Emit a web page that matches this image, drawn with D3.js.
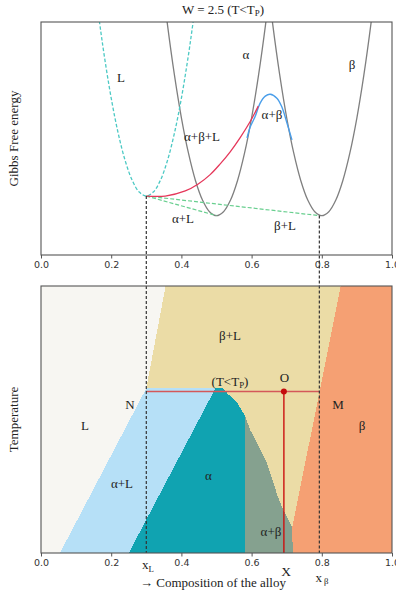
<!DOCTYPE html>
<html>
<head>
<meta charset="utf-8">
<script src="https://cdn.jsdelivr.net/npm/d3@7"></script>
<style>
  html, body { margin: 0; padding: 0; background: #fff; }
  svg { display: block; }
  .lbl { font-family: "Liberation Serif", "Times New Roman", serif; fill: #222; }
  .tick text { font-family: "DejaVu Sans", sans-serif; font-size: 9.5px; fill: #333; }
</style>
</head>
<body>
<svg id="chart" width="396" height="593"></svg>
<script>
// ---- Gibbs free energy curves (composition, G in arbitrary units) ----
const liquidG = [[0.16,1.076],[0.17,0.963],[0.18,0.858],[0.20,0.673],[0.22,0.522],[0.24,0.404],[0.26,0.320],[0.28,0.270],[0.30,0.253],[0.32,0.270],[0.34,0.320],[0.36,0.404],[0.38,0.522],[0.40,0.673],[0.42,0.858],[0.43,0.963],[0.44,1.076]];
const alphaG = [[0.34,1.244],[0.36,0.992],[0.38,0.774],[0.40,0.589],[0.42,0.438],[0.44,0.320],[0.46,0.236],[0.48,0.186],[0.50,0.169],[0.52,0.186],[0.54,0.236],[0.56,0.320],[0.58,0.438],[0.60,0.589],[0.62,0.774],[0.64,0.992],[0.66,1.244]];
const betaG = [[0.64,1.244],[0.66,0.992],[0.68,0.774],[0.70,0.589],[0.72,0.438],[0.74,0.320],[0.76,0.236],[0.78,0.186],[0.80,0.169],[0.82,0.186],[0.84,0.236],[0.86,0.320],[0.88,0.438],[0.90,0.589],[0.92,0.774],[0.94,0.992],[0.96,1.244]];
const threePhaseG = [[0.300,0.253],[0.354,0.253],[0.411,0.275],[0.448,0.305],[0.482,0.345],[0.510,0.390],[0.539,0.443],[0.567,0.503],[0.596,0.573],[0.619,0.639]];
const alphaBetaG = [[0.587,0.502],[0.596,0.549],[0.610,0.594],[0.624,0.651],[0.639,0.682],[0.653,0.690],[0.672,0.673],[0.686,0.636],[0.701,0.565],[0.715,0.494]];
const tangentAlphaL = [[0.300,0.253],[0.500,0.169]];
const tangentBetaL = [[0.300,0.253],[0.793,0.169]];

// ---- Phase diagram boundaries (composition, temperature 0..1) ----
const liquidusAlpha = [[0.054,0],[0.300,0.617]];
const liquidusBeta = [[0.300,0.617],[0.355,1]];
const solidusAlpha = [[0.250,0],[0.497,0.617]];
const solvusAlpha = [[0.519,0.617],[0.530,0.599],[0.559,0.562],[0.581,0.515],[0.596,0.461],[0.644,0.337],[0.675,0.210],[0.690,0.161],[0.716,0.097],[0.717,0]];
const solidusBeta = [[0.854,1],[0.716,0.097],[0.717,0]];
const alphaBetaEdge = 0.581;

// ---- Tie line at the chosen temperature ----
const tieT = 0.605;
const xL = 0.300;
const xBeta = 0.793;
const alloyX = 0.692;

const xTicks = [0.0, 0.2, 0.4, 0.6, 0.8, 1.0];

const svg = d3.select("#chart");
const left = 41, right = 392;
const top1 = 22, bot1 = 255;
const top2 = 286, bot2 = 553;

const x = d3.scaleLinear().domain([0, 1]).range([left, right]);
const yG = d3.scaleLinear().domain([0, 1]).range([bot1, top1]);
const yT = d3.scaleLinear().domain([0, 1]).range([bot2, top2]);

// ---------- upper panel: free energy curves ----------
svg.append("clipPath").attr("id", "clipTop")
  .append("rect").attr("x", left).attr("y", top1).attr("width", right - left).attr("height", bot1 - top1);

const gTop = svg.append("g").attr("clip-path", "url(#clipTop)");
const lineG = d3.line().x(d => x(d[0])).y(d => yG(d[1])).curve(d3.curveCatmullRom);
const straightG = d3.line().x(d => x(d[0])).y(d => yG(d[1]));

gTop.append("path").attr("d", lineG(alphaG)).attr("fill", "none").attr("stroke", "#7f7f7f").attr("stroke-width", 1.3);
gTop.append("path").attr("d", lineG(betaG)).attr("fill", "none").attr("stroke", "#7f7f7f").attr("stroke-width", 1.3);
gTop.append("path").attr("d", lineG(liquidG)).attr("fill", "none").attr("stroke", "#4cc9c4").attr("stroke-width", 1.3).attr("stroke-dasharray", "3.5,2");
gTop.append("path").attr("d", straightG(tangentAlphaL)).attr("fill", "none").attr("stroke", "#68cf8f").attr("stroke-width", 1.2).attr("stroke-dasharray", "4,2");
gTop.append("path").attr("d", straightG(tangentBetaL)).attr("fill", "none").attr("stroke", "#68cf8f").attr("stroke-width", 1.2).attr("stroke-dasharray", "4,2");
gTop.append("path").attr("d", lineG(alphaBetaG)).attr("fill", "none").attr("stroke", "#4a9eea").attr("stroke-width", 1.4);
gTop.append("path").attr("d", lineG(threePhaseG)).attr("fill", "none").attr("stroke", "#e5375a").attr("stroke-width", 1.3);

// ---------- lower panel: phase regions ----------
const P = pts => pts.map(d => [x(d[0]), yT(d[1])]);
const poly = pts => "M" + P(pts).map(p => p.join(",")).join("L") + "Z";
const gBot = svg.append("g").attr("shape-rendering", "crispEdges");

// liquid background
gBot.append("rect").attr("x", x(0)).attr("y", yT(1)).attr("width", x(1) - x(0)).attr("height", yT(0) - yT(1)).attr("fill", "#f7f6f2");

// beta + liquid
const solvusRev = solvusAlpha.slice(0, -1).reverse();
gBot.append("path").attr("fill", "#ebdca6").attr("d", poly([
  ...liquidusBeta, solidusBeta[0], solidusBeta[1], ...solvusRev, liquidusBeta[0]
]));
// alpha + liquid
gBot.append("path").attr("fill", "#b6e0f7").attr("d", poly([
  liquidusAlpha[0], liquidusAlpha[1], solidusAlpha[1], solidusAlpha[0]
]));
// alpha
gBot.append("path").attr("fill", "#10a3b1").attr("d", poly([
  ...solidusAlpha, ...solvusAlpha.filter(d => d[0] <= alphaBetaEdge), [alphaBetaEdge, 0]
]));
// alpha + beta
gBot.append("path").attr("fill", "#85a18f").attr("d", poly([
  ...solvusAlpha.filter(d => d[0] >= alphaBetaEdge), [alphaBetaEdge, 0]
]));
// beta
gBot.append("path").attr("fill", "#f5a073").attr("d", poly([
  solidusBeta[0], [1, 1], [1, 0], solidusBeta[2], solidusBeta[1]
]));

// tie line N–M and alloy composition
svg.append("line").attr("x1", x(xL)).attr("x2", x(xBeta)).attr("y1", yT(tieT)).attr("y2", yT(tieT))
  .attr("stroke", "#d4585a").attr("stroke-width", 1.5);
svg.append("line").attr("x1", x(alloyX)).attr("x2", x(alloyX)).attr("y1", yT(tieT)).attr("y2", yT(0))
  .attr("stroke", "#cc1010").attr("stroke-width", 1.4);
svg.append("circle").attr("cx", x(alloyX)).attr("cy", yT(tieT)).attr("r", 3).attr("fill", "#c40c0c");

// guide lines linking the tangent points to the phase diagram
svg.append("line").attr("x1", x(xL)).attr("x2", x(xL)).attr("y1", yG(0.253)).attr("y2", yT(0))
  .attr("stroke", "#333").attr("stroke-width", 1.2).attr("stroke-dasharray", "3,2");
svg.append("line").attr("x1", x(xBeta)).attr("x2", x(xBeta)).attr("y1", yG(0.169)).attr("y2", yT(0))
  .attr("stroke", "#333").attr("stroke-width", 1.2).attr("stroke-dasharray", "3,2");

// ---------- frames and axes ----------
function frame(t, b) {
  svg.append("rect").attr("x", left).attr("y", t).attr("width", right - left).attr("height", b - t)
    .attr("fill", "none").attr("stroke", "#555").attr("stroke-width", 1.1);
  const ax = svg.append("g").attr("class", "tick").attr("transform", `translate(0,${b})`)
    .call(d3.axisBottom(x).tickValues(xTicks).tickFormat(d3.format(".1f")).tickSize(3.5).tickPadding(2.5));
  ax.select(".domain").remove();
  ax.selectAll("line").attr("stroke", "#555");
}
frame(top1, bot1);
frame(top2, bot2);

// ---------- text ----------
function label(tx, ty, parts, size, anchor) {
  const t = svg.append("text").attr("class", "lbl").attr("x", tx).attr("y", ty)
    .attr("font-size", size).attr("text-anchor", anchor || "middle");
  parts.forEach(p => {
    const s = t.append("tspan").text(p.t);
    if (p.sub) s.attr("font-size", size * 0.68).attr("dy", p.dy || 2);
    if (p.back) s.attr("dy", -(p.back));
  });
  return t;
}

label(223, 14, [{t: "W = 2.5 (T<T"}, {t: "P", sub: true, dy: 1.5}, {t: ")", back: 1.5}], 13);

label(121, 82, [{t: "L"}], 13);
label(246, 58.5, [{t: "α"}], 13);
label(352, 68.5, [{t: "β"}], 13);
label(272, 118.5, [{t: "α+β"}], 13);
label(202, 141, [{t: "α+β+L"}], 13);
label(183, 223, [{t: "α+L"}], 13);
label(285, 229.5, [{t: "β+L"}], 13);

label(230, 340, [{t: "β+L"}], 13);
label(230, 386, [{t: "(T<T"}, {t: "P", sub: true, dy: 1.5}, {t: ")", back: 1.5}], 13);
label(284.5, 382, [{t: "O"}], 13);
label(130, 408.5, [{t: "N"}], 13);
label(338, 408.5, [{t: "M"}], 13);
label(85, 430, [{t: "L"}], 13);
label(362, 430, [{t: "β"}], 13);
label(122, 487.5, [{t: "α+L"}], 13);
label(208.5, 480, [{t: "α"}], 13);
label(271, 536, [{t: "α+β"}], 13);

label(148, 569, [{t: "x"}, {t: "L", sub: true, dy: 3}], 13);
label(286, 576, [{t: "X"}], 13.5);
label(322, 582, [{t: "x"}, {t: " β", sub: true, dy: 2}], 13);
label(213, 587, [{t: "→  Composition of the alloy"}], 13);

svg.append("text").attr("class", "lbl").attr("font-size", 13).attr("text-anchor", "middle")
  .attr("transform", `translate(18,${(top1 + bot1) / 2}) rotate(-90)`).text("Gibbs Free energy");
svg.append("text").attr("class", "lbl").attr("font-size", 13).attr("text-anchor", "middle")
  .attr("transform", `translate(18,${(top2 + bot2) / 2}) rotate(-90)`).text("Temperature");
</script>
</body>
</html>
